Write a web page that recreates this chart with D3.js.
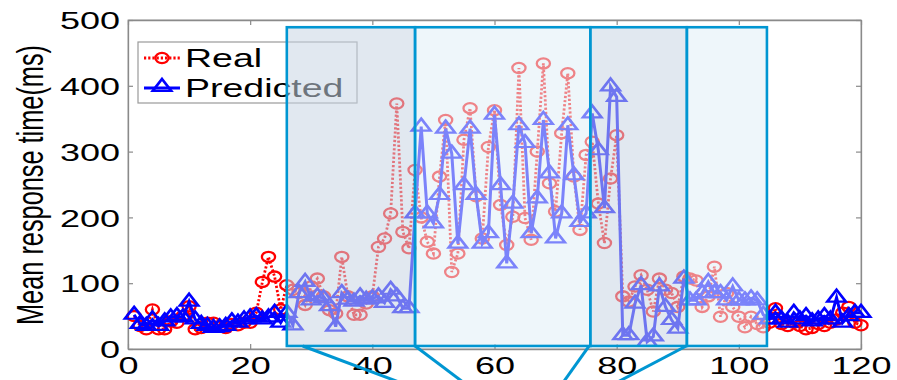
<!DOCTYPE html>
<html>
<head>
<meta charset="utf-8">
<script src="https://cdn.jsdelivr.net/npm/d3@7"></script>
<style>
  html, body { margin: 0; padding: 0; background: #fff; }
  svg { display: block; font-family: "Liberation Sans", Arial, sans-serif; }
</style>
</head>
<body>
<svg id="chart" width="897" height="380"></svg>
<script>
// Mean response time per sample: measured vs. model prediction
const realValues = [
  50, 35, 30, 60, 30, 30, 42, 40, 50, 65,
  30, 32, 40, 40, 35, 32, 38, 36, 40, 40,
  55, 102, 140, 110, 60, 97, 90, 85, 67, 95,
  107, 80, 59, 54, 140, 80, 52, 52, 69, 80,
  155, 168, 206, 373, 178, 153, 272, 200, 163, 145,
  262, 348, 117, 145, 318, 366, 232, 168, 307, 363,
  219, 158, 201, 427, 199, 166, 300, 434, 252, 209,
  328, 419, 262, 181, 295, 315, 221, 161, 259, 325,
  80, 72, 95, 112, 90, 57, 107, 90, 85, 64,
  110, 107, 104, 64, 80, 125, 49, 85, 64, 49,
  33, 49, 38, 33, 40, 62, 38, 35, 40, 35,
  30, 32, 38, 35, 40, 45, 55, 64, 40, 36
];
const predictedValues = [
  52, 38, 35, 45, 35, 42, 48, 50, 48, 72,
  45, 38, 35, 32, 33, 35, 42, 40, 45, 48,
  50, 45, 48, 55, 40, 55, 36, 85, 102, 74,
  80, 77, 65, 34, 85, 75, 72, 80, 75, 77,
  80, 70, 90, 80, 62, 62, 206, 338, 206, 191,
  234, 335, 297, 160, 249, 335, 234, 160, 176, 356,
  249, 130, 221, 340, 313, 176, 229, 348, 267, 168,
  206, 340, 264, 193, 206, 358, 302, 214, 399, 383,
  21, 21, 69, 97, 11, 19, 95, 64, 44, 31,
  107, 74, 74, 85, 102, 85, 85, 74, 95, 74,
  74, 77, 74, 52, 45, 55, 45, 40, 55, 45,
  50, 42, 45, 50, 45, 78, 40, 50, 55, 55
];
const sampleIndex = d3.range(1, realValues.length + 1);

const xTicks = [0, 20, 40, 60, 80, 100, 120];
const yTicks = [0, 100, 200, 300, 400, 500];

// highlighted phases (x boundaries) and their shading
const phaseEdges = [26, 47, 75.7, 91.5, 104.6];
const phaseFills = ["#c8d6e4", "#e0eff6", "#c8d6e4", "#e0eff6"];
const phaseTop = 489, phaseBottom = 4.6;

// connector lines from the highlighted span toward the detail view below
const connectorFrom = [28.6, 47, 75.5, 91.4];
const connectorTo = [44.3, 54.8, 71.3, 80.2];
const connectorBottomValue = -50;

const seriesNames = ["Real", "Predicted"];

const W = 897, H = 380;
const margin = { left: 128, right: 36, top: 20, bottom: 31 };
const stretch = 1.5;  // wide glyph rendering used for all labels
const svg = d3.select("#chart");

const x = d3.scaleLinear().domain([0, 120]).range([margin.left, W - margin.right]);
const y = d3.scaleLinear().domain([0, 500]).range([H - margin.bottom, margin.top]);

const axisColor = "#8a8a8a";

// frame
svg.append("rect")
  .attr("x", x(0)).attr("y", y(500))
  .attr("width", x(120) - x(0)).attr("height", y(0) - y(500))
  .attr("fill", "none").attr("stroke", "#a8a8a8").attr("stroke-width", 1);

// axes with inward ticks
const xAxis = svg.append("g").attr("transform", `translate(0,${y(0)})`)
  .call(d3.axisBottom(x).tickValues(xTicks).tickSizeInner(-5).tickSizeOuter(0).tickPadding(8));
const xAxisTop = svg.append("g").attr("transform", `translate(0,${y(500)})`)
  .call(d3.axisTop(x).tickValues(xTicks).tickSizeInner(-5).tickSizeOuter(0).tickFormat(""));
const yAxis = svg.append("g").attr("transform", `translate(${x(0)},0)`)
  .call(d3.axisLeft(y).tickValues(yTicks).tickSizeInner(-5).tickSizeOuter(0).tickPadding(8 / stretch));
const yAxisRight = svg.append("g").attr("transform", `translate(${x(120)},0)`)
  .call(d3.axisRight(y).tickValues(yTicks).tickSizeInner(-5).tickSizeOuter(0).tickFormat(""));

[xAxis, xAxisTop, yAxis, yAxisRight].forEach(g => {
  g.select(".domain").attr("stroke", axisColor).attr("stroke-width", 1.3);
  g.selectAll(".tick line").attr("stroke", axisColor).attr("stroke-width", 1.2);
  g.selectAll(".tick text")
    .attr("fill", "#000")
    .attr("transform", `scale(${stretch},1)`)
    .style("font-family", "'Liberation Sans', Arial, sans-serif")
    .style("font-size", "24px");
});
xAxis.selectAll(".tick text").attr("dy", "0.72em");
yAxis.selectAll(".tick text").attr("dy", "0.36em");

// y-axis title
svg.append("text")
  .attr("transform", `translate(43,185) scale(${stretch},1) rotate(-90)`)
  .attr("text-anchor", "middle")
  .attr("textLength", 280)
  .attr("lengthAdjust", "spacingAndGlyphs")
  .style("font-size", "25px")
  .attr("fill", "#000")
  .text("Mean response time(ms)");

const realData = sampleIndex.map((d, i) => ({ x: d, v: realValues[i] }));
const predData = sampleIndex.map((d, i) => ({ x: d, v: predictedValues[i] }));

const line = d3.line().x(d => x(d.x)).y(d => y(d.v));

// real series: red dotted line with open circles
svg.append("path").datum(realData)
  .attr("d", line).attr("fill", "none")
  .attr("stroke", "#ff0000").attr("stroke-width", 2.8)
  .attr("stroke-dasharray", "2.2,2");

svg.append("g").selectAll("ellipse").data(realData).join("ellipse")
  .attr("cx", d => x(d.x)).attr("cy", d => y(d.v)).attr("rx", 6.6).attr("ry", 5.1)
  .attr("fill", "none").attr("stroke", "#ff0000").attr("stroke-width", 2.3);

// predicted series: blue solid line with open triangles
svg.append("path").datum(predData)
  .attr("d", line).attr("fill", "none")
  .attr("stroke", "#0000ff").attr("stroke-width", 3);

const tri = d3.symbol().type(d3.symbolTriangle).size(82);
svg.append("g").selectAll("path").data(predData).join("path")
  .attr("transform", d => `translate(${x(d.x)},${y(d.v)}) scale(1.35,1)`)
  .attr("d", tri)
  .attr("fill", "none").attr("stroke", "#0000ff").attr("stroke-width", 2.2);

// legend
const lg = svg.append("g");
lg.append("rect")
  .attr("x", 138).attr("y", 42).attr("width", 219).attr("height", 61)
  .attr("fill", "#fff").attr("stroke", "#9a9a9a").attr("stroke-width", 1.2);

const realRow = lg.append("g").attr("transform", "translate(0,58)");
realRow.append("line").attr("x1", 144).attr("x2", 180)
  .attr("stroke", "#ff0000").attr("stroke-width", 2.8).attr("stroke-dasharray", "2.2,2");
realRow.append("ellipse").attr("cx", 162).attr("rx", 6.6).attr("ry", 5.1)
  .attr("fill", "none").attr("stroke", "#ff0000").attr("stroke-width", 2.3);
realRow.append("text").attr("transform", `translate(185,8.5) scale(${stretch},1)`)
  .style("font-size", "25px").attr("fill", "#000").text(seriesNames[0]);

const predRow = lg.append("g").attr("transform", "translate(0,88)");
predRow.append("line").attr("x1", 144).attr("x2", 180)
  .attr("stroke", "#0000ff").attr("stroke-width", 3);
predRow.append("path").attr("transform", "translate(162,-1) scale(1.35,1)").attr("d", tri)
  .attr("fill", "none").attr("stroke", "#0000ff").attr("stroke-width", 2.2);
predRow.append("text").attr("transform", `translate(185,8.5) scale(${stretch},1)`)
  .style("font-size", "25px").attr("fill", "#000").text(seriesNames[1]);

// translucent highlight panels laid over the data
const panels = d3.range(phaseEdges.length - 1).map(i => ({
  x0: phaseEdges[i], x1: phaseEdges[i + 1], fill: phaseFills[i]
}));
svg.append("g").selectAll("rect").data(panels).join("rect")
  .attr("x", d => x(d.x0)).attr("y", y(phaseTop))
  .attr("width", d => x(d.x1) - x(d.x0)).attr("height", y(phaseBottom) - y(phaseTop))
  .attr("fill", d => d.fill).attr("fill-opacity", 0.55)
  .attr("stroke", "#0096d2").attr("stroke-width", 2.6);

// connector lines
svg.append("g").selectAll("line").data(connectorFrom).join("line")
  .attr("x1", d => x(d)).attr("y1", y(phaseBottom))
  .attr("x2", (d, i) => x(connectorTo[i])).attr("y2", y(connectorBottomValue))
  .attr("stroke", "#0096d2").attr("stroke-width", 3);
</script>
</body>
</html>
